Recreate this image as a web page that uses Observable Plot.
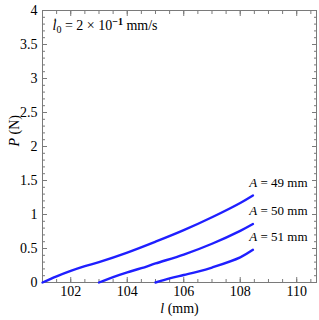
<!DOCTYPE html>
<html><head><meta charset="utf-8">
<script src="https://cdn.jsdelivr.net/npm/d3@7"></script>
<script src="https://cdn.jsdelivr.net/npm/@observablehq/plot@0.6"></script>
<style>body{margin:0;background:#fff}</style>
</head><body><div id="chart"></div>
<script>
const x49 = [101, 101.5, 102, 102.5, 103, 104, 105, 106, 107, 108, 108.45];
const y49 = [0, 0.09, 0.17, 0.24, 0.30, 0.44, 0.60, 0.77, 0.96, 1.17, 1.28];
const x50 = [103, 103.5, 104, 104.5, 105, 106, 107, 108, 108.45];
const y50 = [0, 0.08, 0.15, 0.21, 0.28, 0.41, 0.57, 0.76, 0.86];
const x51 = [105, 105.5, 106, 106.5, 107, 108, 108.45];
const y51 = [0, 0.06, 0.11, 0.16, 0.22, 0.37, 0.48];
const seriesNames = ["A = 49 mm", "A = 50 mm", "A = 51 mm"];
const xMajor = [102, 104, 106, 108, 110];
const xMinor = d3.range(101, 110.75, 0.5);
const yMajor = [0, 0.5, 1, 1.5, 2, 2.5, 3, 3.5, 4];
const yMinor = d3.range(0, 4.001, 0.1);
const yLabels = ["0", "0.5", "1", "1.5", "2", "2.5", "3", "3.5", "4"];
const annotation = "l̇0 = 2 × 10−1 mm/s";

const xs = [x49, x50, x51], ys = [y49, y50, y51];
const data = [];
xs.forEach((xx, k) => xx.forEach((x, i) => data.push({series: seriesNames[k], x, y: ys[k][i]})));
const ends = xs.map((xx, k) => ({series: seriesNames[k], x: xx[xx.length - 1], y: ys[k][ys[k].length - 1]}));

const gray = "#7a7a7a";
const tickOpts = (anchor, ticks, size) => ({anchor, ticks, tickSize: size, tickFormat: () => "", stroke: gray, label: null});

const svg = Plot.plot({
  width: 319, height: 320,
  marginLeft: 42, marginRight: 3, marginTop: 10, marginBottom: 38,
  style: {fontFamily: "Liberation Serif", fontSize: "13px", color: "#000", background: "#fff"},
  x: {domain: [101, 110.7]},
  y: {domain: [0, 4]},
  marks: [
    Plot.frame({stroke: gray}),
    Plot.axisX(tickOpts("bottom", xMinor, -3)),
    Plot.axisX(tickOpts("bottom", xMajor, -5)),
    Plot.axisX(tickOpts("top", xMinor, -3)),
    Plot.axisX(tickOpts("top", xMajor, -5)),
    Plot.axisY(tickOpts("left", yMinor, -3)),
    Plot.axisY(tickOpts("left", yMajor, -5)),
    Plot.axisY(tickOpts("right", yMinor, -3)),
    Plot.axisY(tickOpts("right", yMajor, -5)),
    Plot.axisX({anchor: "bottom", ticks: xMajor, tickSize: 0, tickPadding: 4, tickFormat: d => String(d), label: null, fontSize: 14}),
    Plot.axisY({anchor: "left", ticks: yMajor, tickSize: 0, tickPadding: 5, tickFormat: (d, i) => yLabels[i], label: null, fontSize: 14}),
    Plot.line(data, {x: "x", y: "y", z: "series", stroke: "#1f1fff", strokeWidth: 2.4, curve: "catmull-rom"}),
    Plot.text(ends, {y: "y", text: "series", frameAnchor: "right", textAnchor: "end", dx: -9, dy: -13, fontSize: 13}),
    Plot.text([annotation], {frameAnchor: "top-left", textAnchor: "start", dx: 10, dy: 10, fontSize: 14}),
    Plot.text(["P (N)"], {frameAnchor: "left", rotate: -90, dx: -28, fontSize: 14}),
    Plot.text(["l (mm)"], {frameAnchor: "bottom", dy: 30, fontSize: 14})
  ]
});

const NS = "http://www.w3.org/2000/svg";
function rebuild(el, parts) {
  el.textContent = "";
  for (const p of parts) {
    const t = document.createElementNS(NS, "tspan");
    t.textContent = p.t;
    if (p.i) t.setAttribute("font-style", "italic");
    if (p.dy) t.setAttribute("dy", p.dy);
    if (p.fs) t.setAttribute("font-size", p.fs);
    if (p.fw) t.setAttribute("font-weight", p.fw);
    el.appendChild(t);
  }
}
svg.querySelectorAll("text").forEach(el => {
  const s = el.textContent;
  if (s.startsWith("A = ")) rebuild(el, [{t: "A", i: 1}, {t: s.slice(1)}]);
  else if (s === "P (N)") rebuild(el, [{t: "P", i: 1}, {t: " (N)"}]);
  else if (s === "l (mm)") rebuild(el, [{t: "l", i: 1}, {t: " (mm)"}]);
  else if (s === annotation) rebuild(el, [
    {t: "l̇", i: 1}, {t: "0", dy: "3", fs: "10"}, {t: " = 2 × 10", dy: "-3"},
    {t: "−1", dy: "-5", fs: "10", fw: "bold"}, {t: " mm/s", dy: "5"}
  ]);
});
document.getElementById("chart").appendChild(svg);
</script>
</body></html>
